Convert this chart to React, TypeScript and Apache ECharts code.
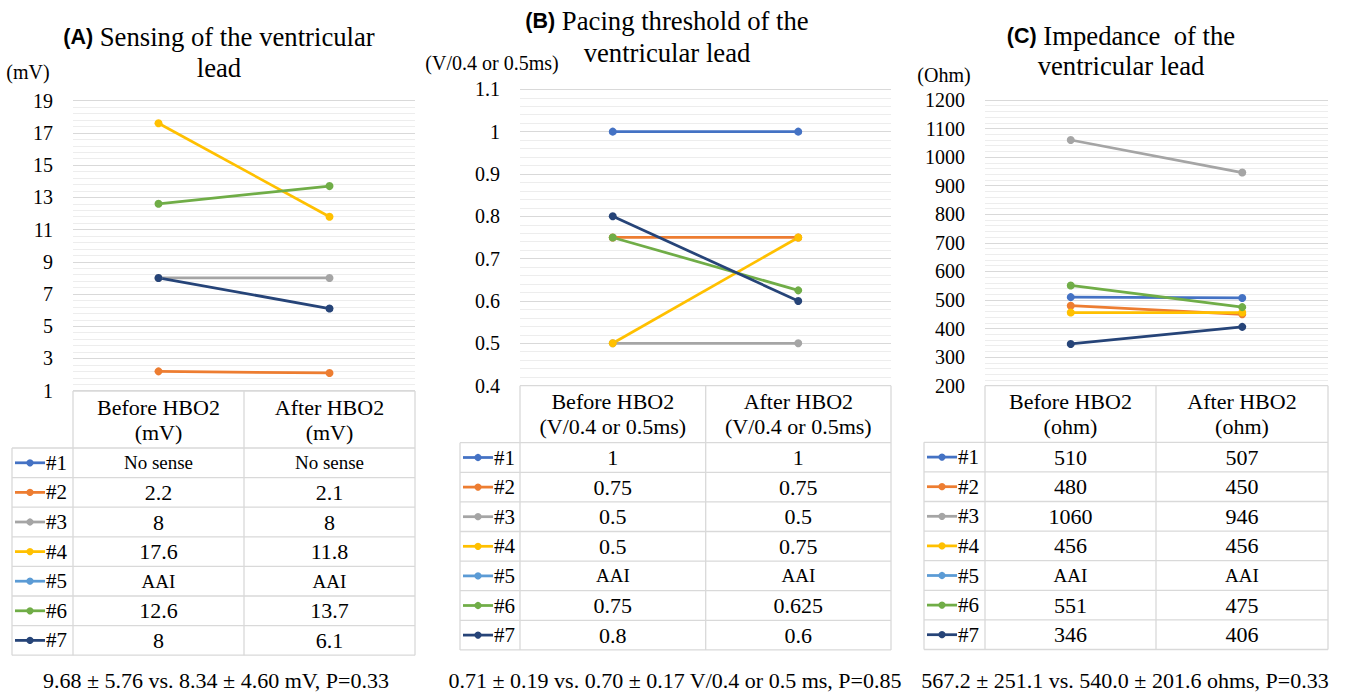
import React, { useEffect, useRef } from "react";
import * as echarts from "echarts";

// ---------- data ----------
const categories = ["Before HBO2", "After HBO2"];
const patients = ["#1", "#2", "#3", "#4", "#5", "#6", "#7"];
const colors = ["#4472C4", "#ED7D31", "#A5A5A5", "#FFC000", "#5B9BD5", "#70AD47", "#264478"];

const sensingBefore = [null, 2.2, 8, 17.6, null, 12.6, 8];
const sensingAfter = [null, 2.1, 8, 11.8, null, 13.7, 6.1];
const sensingNotes = ["No sense", null, null, null, "AAI", null, null];
const sensingTicks = [1, 3, 5, 7, 9, 11, 13, 15, 17, 19];

const thresholdBefore = [1, 0.75, 0.5, 0.5, null, 0.75, 0.8];
const thresholdAfter = [1, 0.75, 0.5, 0.75, null, 0.625, 0.6];
const thresholdNotes = [null, null, null, null, "AAI", null, null];
const thresholdTicks = [0.4, 0.5, 0.6, 0.7, 0.8, 0.9, 1, 1.1];

const impedanceBefore = [510, 480, 1060, 456, null, 551, 346];
const impedanceAfter = [507, 450, 946, 456, null, 475, 406];
const impedanceNotes = [null, null, null, null, "AAI", null, null];
const impedanceTicks = [200, 300, 400, 500, 600, 700, 800, 900, 1000, 1100, 1200];

const titleTags = ["(A)", "(B)", "(C)"];
const titleLines = [
  ["Sensing of the ventricular", "lead"],
  ["Pacing threshold of the", "ventricular lead"],
  ["Impedance  of the", "ventricular lead"],
];
const axisUnits = ["(mV)", "(V/0.4 or 0.5ms)", "(Ohm)"];
const headerUnits = ["(mV)", "(V/0.4 or 0.5ms)", "(ohm)"];
const summaries = [
  "9.68 ± 5.76 vs. 8.34 ± 4.60 mV, P=0.33",
  "0.71 ± 0.19 vs. 0.70 ± 0.17 V/0.4 or 0.5 ms, P=0.85",
  "567.2 ± 251.1 vs. 540.0 ± 201.6 ohms, P=0.33",
];

// ---------- layout ----------
const layouts = [
  {
    grid: { left: 73, top: 100.7, width: 342, height: 290 },
    titleX: 219, titleY: [37, 68], unitX: 28, unitY: 72,
    legendLeft: 12, colLeft: 73, colMid: 244, colRight: 415,
    headerTop: 391, headerBottom: 448, rowH: 29.6, footerX: 216, footerY: 680,
  },
  {
    grid: { left: 520, top: 89.3, width: 371, height: 296.3 },
    titleX: 667, titleY: [21, 53], unitX: 492, unitY: 63,
    legendLeft: 460, colLeft: 520, colMid: 705.7, colRight: 891,
    headerTop: 385.7, headerBottom: 442.7, rowH: 29.6, footerX: 675, footerY: 680,
  },
  {
    grid: { left: 985, top: 100, width: 343, height: 285.7 },
    titleX: 1121, titleY: [36, 66], unitX: 944, unitY: 75,
    legendLeft: 924, colLeft: 985, colMid: 1156, colRight: 1328,
    headerTop: 385.7, headerBottom: 442.3, rowH: 29.6, footerX: 1125, footerY: 680,
  },
];

const SERIF = "Liberation Serif";
const SANS = "Liberation Sans";

const panelData = [
  { before: sensingBefore, after: sensingAfter, notes: sensingNotes, ticks: sensingTicks },
  { before: thresholdBefore, after: thresholdAfter, notes: thresholdNotes, ticks: thresholdTicks },
  { before: impedanceBefore, after: impedanceAfter, notes: impedanceNotes, ticks: impedanceTicks },
];

function txt(x: number, y: number, text: string, size: number, align = "center") {
  return {
    type: "text",
    silent: true,
    style: {
      x, y, text,
      fill: "#000",
      fontFamily: SERIF,
      fontSize: size,
      textAlign: align,
      textVerticalAlign: "middle",
      align,
      verticalAlign: "middle",
    },
  };
}

function panelGraphics(pi: number) {
  const p = panelData[pi];
  const L = layouts[pi];
  const els: any[] = [];
  const rows = patients.length;
  const bottom = L.headerBottom + rows * L.rowH;
  const line = (x1: number, y1: number, x2: number, y2: number) => ({
    type: "line",
    silent: true,
    shape: { x1, y1, x2, y2 },
    style: { stroke: "#D9D9D9", lineWidth: 1.3 },
  });
  els.push(line(L.colLeft, L.headerTop, L.colRight, L.headerTop));
  for (let i = 0; i <= rows; i++) {
    const y = L.headerBottom + i * L.rowH;
    els.push(line(L.legendLeft, y, L.colRight, y));
  }
  els.push(line(L.legendLeft, L.headerBottom, L.legendLeft, bottom));
  [L.colLeft, L.colMid, L.colRight].forEach((x) => els.push(line(x, L.headerTop, x, bottom)));

  const colCenters = [(L.colLeft + L.colMid) / 2, (L.colMid + L.colRight) / 2];
  const headerMid = (L.headerTop + L.headerBottom) / 2;
  categories.forEach((c, j) => {
    els.push(txt(colCenters[j], headerMid - 12.5, c, 22));
    els.push(txt(colCenters[j], headerMid + 12.5, headerUnits[pi], 22));
  });

  patients.forEach((name, i) => {
    const yc = L.headerBottom + (i + 0.5) * L.rowH;
    els.push({
      type: "line", silent: true,
      shape: { x1: L.legendLeft + 3, y1: yc, x2: L.legendLeft + 33, y2: yc },
      style: { stroke: colors[i], lineWidth: 2.75 },
    });
    els.push({
      type: "circle", silent: true,
      shape: { cx: L.legendLeft + 18, cy: yc, r: 3.6 },
      style: { fill: colors[i] },
    });
    els.push(txt(L.legendLeft + 34, yc, name, 21, "left"));
    const vals = [p.before[i], p.after[i]];
    vals.forEach((v, j) => {
      const note = p.notes[i];
      const label = note != null ? note : String(v);
      els.push(txt(colCenters[j], yc, label, note != null ? 19 : 22));
    });
  });

  // title
  els.push({
    type: "text", silent: true,
    style: {
      x: L.titleX, y: L.titleY[0],
      text: "{b|" + titleTags[pi] + "} " + titleLines[pi][0],
      fill: "#000", fontFamily: SERIF, fontSize: 26.7,
      textAlign: "center", textVerticalAlign: "middle", align: "center", verticalAlign: "middle",
      rich: {
        b: { fontFamily: SANS, fontWeight: "bold", fontSize: 21.5, fill: "#000" },
      },
    },
  });
  els.push({
    type: "text", silent: true,
    style: {
      x: L.titleX, y: L.titleY[1], text: titleLines[pi][1],
      fill: "#000", fontFamily: SERIF, fontSize: 26.7,
      textAlign: "center", textVerticalAlign: "middle", align: "center", verticalAlign: "middle",
    },
  });
  els.push(txt(L.unitX, L.unitY, axisUnits[pi], 20));
  els.push(txt(L.footerX, L.footerY, summaries[pi], 22));
  return els;
}

function buildOption() {
  const grids: any[] = [];
  const xAxes: any[] = [];
  const yAxes: any[] = [];
  const series: any[] = [];
  let graphic: any[] = [];
  panelData.forEach((p, pi) => {
    const L = layouts[pi];
    grids.push({ ...L.grid, containLabel: false });
    xAxes.push({
      type: "category", gridIndex: pi, data: categories, boundaryGap: true,
      axisLine: { show: false }, axisTick: { show: false }, axisLabel: { show: false },
      splitLine: { show: false },
    });
    const t = p.ticks;
    const interval = Math.round((t[1] - t[0]) * 1e6) / 1e6;
    yAxes.push({
      type: "value", gridIndex: pi,
      min: t[0], max: t[t.length - 1], interval,
      axisLine: { show: false }, axisTick: { show: false },
      axisLabel: {
        fontFamily: SERIF, fontSize: 20, color: "#000", margin: 20,
        formatter: (v: number) => "{s|" + String(Math.round(v * 1e6) / 1e6) + "}",
        rich: { s: { fontFamily: SERIF, fontSize: 20, color: "#000" } },
      },
      splitLine: { show: true, lineStyle: { color: "#D9D9D9", width: 1 } },
      minorTick: { show: false, splitNumber: 5 },
      minorSplitLine: { show: true, lineStyle: { color: "#EDEDED", width: 1 } },
    });
    patients.forEach((name, i) => {
      series.push({
        type: "line", name, xAxisIndex: pi, yAxisIndex: pi,
        data: [p.before[i], p.after[i]],
        symbol: "circle", symbolSize: 8, showSymbol: true,
        lineStyle: { color: colors[i], width: 2.75 },
        itemStyle: { color: colors[i] },
        connectNulls: false,
        silent: true,
      });
    });
    graphic = graphic.concat(panelGraphics(pi));
  });
  return {
    animation: false,
    backgroundColor: "#fff",
    textStyle: { fontFamily: SERIF },
    grid: grids,
    xAxis: xAxes,
    yAxis: yAxes,
    series,
    graphic: { elements: graphic },
  };
}

export default function App() {
  const ref = useRef<HTMLDivElement>(null);
  useEffect(() => {
    if (!ref.current) return;
    const chart = echarts.init(ref.current, undefined, { renderer: "svg" });
    chart.setOption(buildOption() as any);
    return () => chart.dispose();
  }, []);
  return (
    <div
      ref={ref}
      style={{ position: "fixed", left: 0, top: 0, width: "1346px", height: "692px", background: "#fff" }}
    />
  );
}
